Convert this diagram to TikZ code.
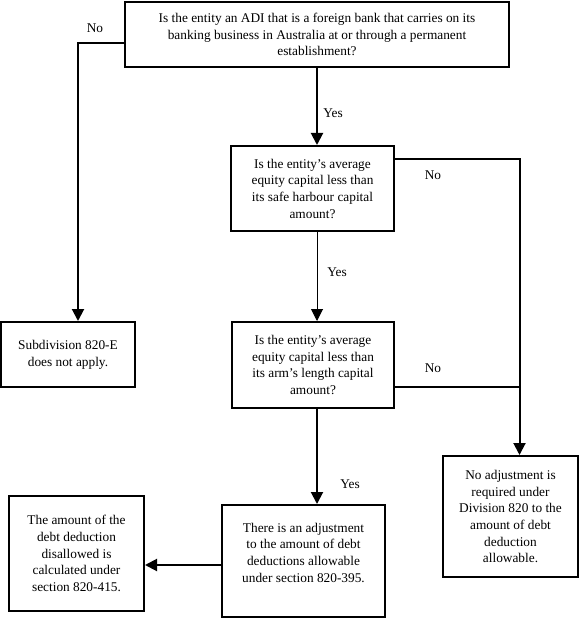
\documentclass[tikz,border=0pt]{standalone}
\usepackage{fontspec}
\setmainfont{Liberation Serif}
\usetikzlibrary{arrows.meta}
\begin{document}
\begin{tikzpicture}[x=0.75pt,y=-0.75pt,
  every node/.style={font=\fontsize{10pt}{12.5pt}\selectfont},
  box/.style={draw,line width=1.5pt,rectangle,inner sep=0pt,align=center},
  lbl/.style={inner sep=0pt},
  conn/.style={line width=1.5pt},
  arr/.style={line width=1.5pt,-{Triangle[width=9pt,length=9pt]}},
  thinarr/.style={line width=0.75pt,-{Triangle[width=9pt,length=9pt]}}]
\useasboundingbox (0,0) rectangle (579,620);
\node[box,minimum width=288pt,minimum height=48.75pt] (b1) at (317,34.5)
  {Is the entity an ADI that is a foreign bank that carries on its\\banking business in Australia at or through a permanent\\establishment?};
\node[box,minimum width=122.25pt,minimum height=63.75pt] (b2) at (312.5,188.5)
  {Is the entity’s average\\equity capital less than\\its safe harbour capital\\amount?};
\node[box,minimum width=121.5pt,minimum height=64.5pt] (b3) at (313,365)
  {Is the entity’s average\\equity capital less than\\its arm’s length capital\\amount?};
\node[box,minimum width=122.25pt,minimum height=84pt] (b4) at (303.5,561)
  {There is an adjustment\\to the amount of debt\\deductions allowable\\under section 820-395.\\\mbox{}};
\node[box,minimum width=101.25pt,minimum height=86.25pt] (b5) at (76.5,553.5)
  {The amount of the\\debt deduction\\disallowed is\\calculated under\\section 820-415.};
\node[box,minimum width=100.5pt,minimum height=48.75pt] (b6) at (68,354.5)
  {Subdivision 820-E\\does not apply.};
\node[box,minimum width=101.25pt,minimum height=90.75pt] (b7) at (510.5,516.5)
  {No adjustment is\\required under\\Division 820 to the\\amount of debt\\deduction\\allowable.};
% connectors
\coordinate (c1) at (78,43);
\coordinate (c2) at (519.5,159);
\coordinate (c3) at (519.5,387);
\coordinate (c4) at (317,408);
\draw[arr] (b1.south) -- (b1.south |- b2.north);
\draw[thinarr] ([xshift=3.375pt]b2.south) -- ([xshift=3pt]b3.north);
\draw[arr] (c4) -- (c4 |- b4.north);
\draw[arr] (b4.west |- 0,565) -- (b5.east |- 0,565);
\draw[conn] (b2.east |- c2) -- (c2) -- (c3);
\draw[arr] (c3) -- (c3 |- b7.north);
\draw[conn] (b3.east |- c3) -- (c3);
\draw[arr] (b1.west |- c1) -- (c1) -- (c1 |- b6.north);
% labels
\node[lbl] (n1) at (95,28) {No};
\node[lbl] (y1) at (333,113) {Yes};
\node[lbl] (n2) at (433,175) {No};
\node[lbl] (y2) at (337,272) {Yes};
\node[lbl] (n3) at (433,368) {No};
\node[lbl] (y3) at (350,484) {Yes};
\end{tikzpicture}
\end{document}
